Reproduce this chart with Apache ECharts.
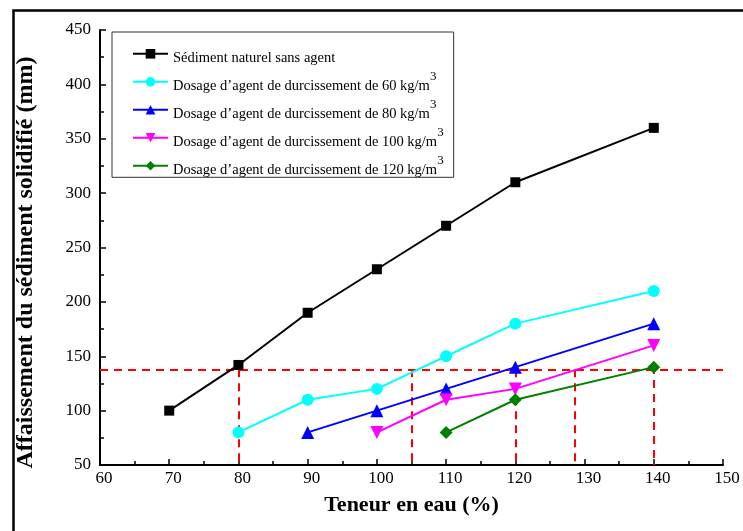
<!DOCTYPE html>
<html><head><meta charset="utf-8">
<script src="https://cdn.jsdelivr.net/npm/echarts@6/dist/echarts.min.js"></script>
<style>html,body{margin:0;padding:0;background:#fff}#c{width:743px;height:531px}</style>
</head><body><div id="c"></div>
<script>
var seriesNames = [
  'Sédiment naturel sans agent',
  'Dosage d\u2019agent de durcissement de 60 kg/m',
  'Dosage d\u2019agent de durcissement de 80 kg/m',
  'Dosage d\u2019agent de durcissement de 100 kg/m',
  'Dosage d\u2019agent de durcissement de 120 kg/m'
];
var superscripts = ['', '3', '3', '3', '3'];
var xNatural = [70, 80, 90, 100, 110, 120, 140];
var yNatural = [100, 142, 190, 230, 270, 310, 360];
var x60 = [80, 90, 100, 110, 120, 140];
var y60 = [80, 110, 120, 150, 180, 210];
var x80 = [90, 100, 110, 120, 140];
var y80 = [80, 100, 120, 140, 180];
var x100 = [100, 110, 120, 140];
var y100 = [80, 110, 120, 160];
var x120 = [110, 120, 140];
var y120 = [80, 110, 140];
var refLevel = 138;
var refXs = [80, 105, 120, 128.6, 140];

var colors = ['#000000', '#00ffff', '#0000ff', '#ff00ff', '#008000'];
var symbols = ['rect', 'circle', 'triangle', 'path://M0,0 L20,0 L10,17 Z', 'diamond'];
var sizes = [10, 12, 13, 13, 13];
var xs = [xNatural, x60, x80, x100, x120];
var ys = [yNatural, y60, y80, y100, y120];

function pairs(a, b) { return a.map(function (v, i) { return [v, b[i]]; }); }

var font = 'Liberation Serif';
var series = seriesNames.map(function (n, i) {
  return {
    name: n, type: 'line', data: pairs(xs[i], ys[i]),
    symbol: symbols[i], symbolSize: sizes[i],
    lineStyle: { color: colors[i], width: 2 },
    itemStyle: { color: colors[i] },
    z: 5 + i
  };
});

var refLines = [[{ coord: [60, refLevel] }, { coord: [150, refLevel] }]];
refXs.forEach(function (x) {
  refLines.push([{ coord: [x, x === 140 ? 141 : refLevel] }, { coord: [x, 50] }]);
});
series.push({
  name: 'ref', type: 'line', data: [], z: 2,
  markLine: {
    silent: true, symbol: ['none', 'none'], label: { show: false },
    lineStyle: { color: '#ff0000', width: 2, type: [8, 6] },
    data: refLines
  }
});

var chart = echarts.init(document.getElementById('c'), null, { renderer: 'canvas' });
chart.setOption({
  animation: false,
  backgroundColor: '#fff',
  graphic: [{
    type: 'rect', left: 11, top: 8,
    shape: { width: 800, height: 600 },
    style: { fill: 'none', stroke: '#000', lineWidth: 2.5 }, silent: true, z: -1
  }],
  grid: { left: 100, right: 20, top: 30, bottom: 66 },
  legend: {
    orient: 'vertical', left: 112, top: 32,
    data: seriesNames,
    padding: [17, 10, 0, 20],
    itemGap: 5, itemWidth: 35, itemHeight: 12,
    borderColor: '#333', borderWidth: 1,
    formatter: function (name) {
      var i = seriesNames.indexOf(name);
      return '{t|' + name + '}' + (superscripts[i] ? '{s|' + superscripts[i] + '}' : '');
    },
    textStyle: {
      fontFamily: font, fontSize: 14.5, color: '#000',
      rich: {
        t: { fontFamily: font, fontSize: 14.5, color: '#000', lineHeight: 23, verticalAlign: 'bottom' },
        s: { fontFamily: font, fontSize: 13, color: '#000', verticalAlign: 'top', lineHeight: 13 }
      }
    }
  },
  xAxis: {
    type: 'value', min: 60, max: 150, interval: 10,
    name: 'Teneur en eau (%)', nameLocation: 'middle', nameGap: 29,
    nameTextStyle: { fontFamily: font, fontSize: 22, fontWeight: 'bold', color: '#000' },
    axisLine: { lineStyle: { color: '#000', width: 2 } },
    axisTick: { inside: true, length: 6, lineStyle: { color: '#000', width: 1.5 } },
    minorTick: { show: true, splitNumber: 2, length: 4, lineStyle: { color: '#000', width: 1.5 } },
    splitLine: { show: false },
    axisLabel: { fontFamily: font, fontSize: 17, color: '#000', margin: 5, padding: [0, 0, 0, 8] }
  },
  yAxis: {
    type: 'value', min: 50, max: 450, interval: 50,
    name: 'Affaissement du sédiment solidifié (mm)', nameLocation: 'middle', nameGap: 62,
    nameTextStyle: { fontFamily: font, fontSize: 24, fontWeight: 'bold', color: '#000', padding: [0, 30, 0, 0] },
    axisLine: { show: true, lineStyle: { color: '#000', width: 2 } },
    axisTick: { show: true, inside: true, length: 6, lineStyle: { color: '#000', width: 1.5 } },
    minorTick: { show: true, splitNumber: 2, length: 4, lineStyle: { color: '#000', width: 1.5 } },
    splitLine: { show: false },
    axisLabel: { fontFamily: font, fontSize: 17, color: '#000', margin: 9 }
  },
  series: series
});
</script>
</body></html>
